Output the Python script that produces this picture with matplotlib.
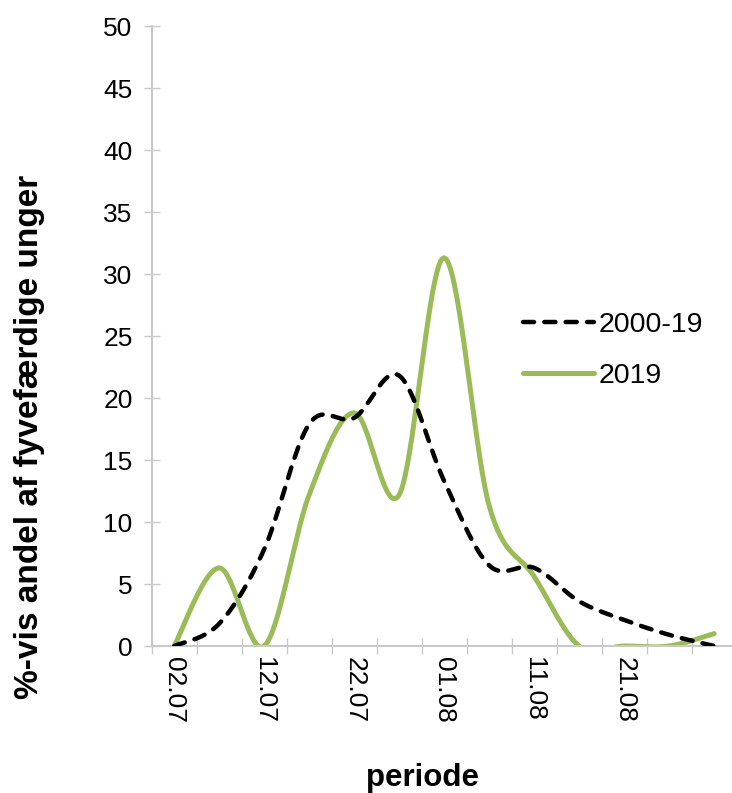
import numpy as np
import matplotlib
matplotlib.use("Agg")
import matplotlib.pyplot as plt

plt.rcParams['font.family'] = ['Liberation Sans', 'DejaVu Sans']

# ---- data ----
periods = ["02.07", "07.07", "12.07", "17.07", "22.07", "27.07", "01.08",
           "06.08", "11.08", "16.08", "21.08", "26.08", "31.08"]
avg_2000_19 = [0.0, 1.8, 7.8, 17.9, 18.4, 21.8, 13.3, 6.5, 6.3, 3.6, 2.1, 0.9, 0.0]
year_2019 = [0.0, 6.3, 0.0, 12.2, 18.8, 12.2, 31.3, 11.3, 5.6, 0.0, 0.0, 0.0, 1.0]
shown_labels = ["02.07", "12.07", "22.07", "01.08", "11.08", "21.08"]
series_names = ["2000-19", "2019"]


def smooth(y, n=40):
    """Excel-like smoothed line (Catmull-Rom / cubic Bezier)."""
    y = np.asarray(y, float)
    x = np.arange(len(y), dtype=float)
    P = np.column_stack([x, y])
    pts = []
    for i in range(len(P) - 1):
        p0 = P[i - 1] if i > 0 else P[i]
        p1 = P[i]
        p2 = P[i + 1]
        p3 = P[i + 2] if i + 2 < len(P) else P[i + 1]
        c1 = p1 + (p2 - p0) / 6.0
        c2 = p2 - (p3 - p1) / 6.0
        t = np.linspace(0, 1, n)[:, None]
        seg = ((1 - t) ** 3) * p1 + 3 * ((1 - t) ** 2) * t * c1 + 3 * (1 - t) * t ** 2 * c2 + t ** 3 * p2
        pts.append(seg if i == 0 else seg[1:])
    pts = np.vstack(pts)
    return pts[:, 0], pts[:, 1]


fig = plt.figure(figsize=(7.32, 7.93), dpi=100)
W, H = 732, 793
left, right, top, bottom = 151.7, 151.7 + 13 * 45, 26, 646
ax = fig.add_axes([left / W, (H - bottom) / H, (right - left) / W, (bottom - top) / H])

grey = "#c9c9c9"
fs = 19
x1, y1 = smooth(avg_2000_19)
x2, y2 = smooth(year_2019)
l1, = ax.plot(x1, y1, color="black", lw=3.2, linestyle=(0, (2.5, 2.3)),
              dash_capstyle="round", solid_capstyle="round", label=series_names[0], zorder=3)
l2, = ax.plot(x2, y2, color="#9BBB59", lw=3.6, solid_capstyle="round",
              label=series_names[1], zorder=2)

ax.set_xlim(-0.5, len(periods) - 0.5)
ax.set_ylim(0, 50)

for s in ["top", "right"]:
    ax.spines[s].set_visible(False)
for s in ["left", "bottom"]:
    ax.spines[s].set_color(grey)
    ax.spines[s].set_linewidth(1.5)

ax.set_yticks(np.arange(0, 51, 5))
ax.tick_params(axis="y", direction="inout", length=11.5, width=1.0, color=grey,
               labelsize=fs, pad=8)

boundaries = np.arange(-0.5, len(periods), 1.0)
ax.set_xticks(boundaries)
ax.set_xticklabels([""] * len(boundaries))
ax.tick_params(axis="x", which="major", direction="inout", length=11.5, width=1.0, color=grey)
label_pos = [periods.index(l) for l in shown_labels]
ax.set_xticks(label_pos, minor=True)
ax.set_xticklabels(shown_labels, minor=True, rotation=-90, va="top", ha="center")
ax.tick_params(axis="x", which="minor", length=0, labelsize=fs, pad=8)

fig.text(30 / W, 1 - 437 / H, "%-vis andel af fyvefærdige unger", rotation=90,
         fontsize=24, fontweight="bold", ha="center", va="center")
fig.text(422 / W, 1 - 778 / H, "periode", fontsize=22.5, fontweight="bold",
         ha="center", va="center")

leg = ax.legend(handles=[l1, l2], loc="upper left", bbox_to_anchor=(523 / W, 1 - 312 / H),
                bbox_transform=fig.transFigure, frameon=False, fontsize=20.5,
                handlelength=2.5, handletextpad=0.15, labelspacing=0.88,
                borderpad=0, borderaxespad=0)

fig.savefig("out.png", dpi=100)
